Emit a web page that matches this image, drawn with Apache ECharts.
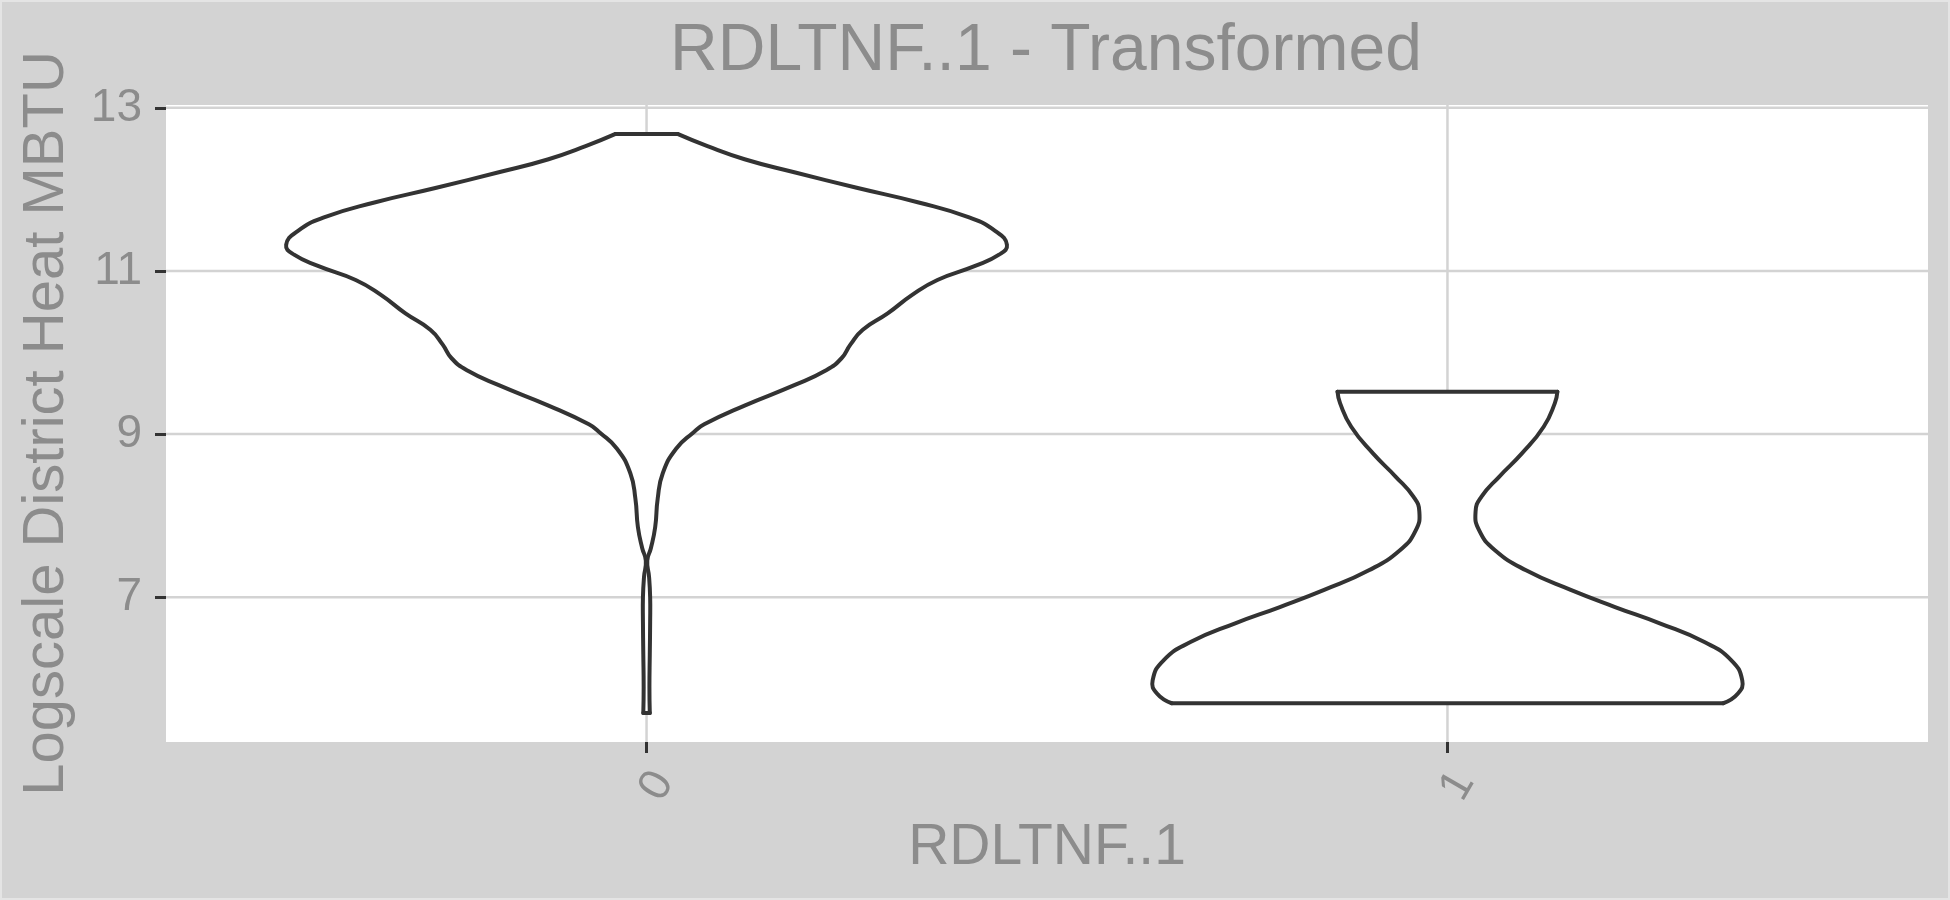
<!DOCTYPE html>
<html><head><meta charset="utf-8">
<script src="https://cdn.jsdelivr.net/npm/echarts@6/dist/echarts.min.js"></script>
<style>html,body{margin:0;padding:0;background:#d3d3d3}#c{width:1950px;height:900px}</style>
</head><body><div id="c"></div>
<script>
// ---- data ----
const categories = ['0', '1'];
const yTicks = [7, 9, 11, 13];
const titleText = 'RDLTNF..1 - Transformed';
const xTitle = 'RDLTNF..1';
const yTitle = 'Logscale District Heat MBTU';
// violin outlines: y values and relative half-widths (1 = widest violin)
const violin0Y = [5.58, 5.9, 6.3, 6.7, 7.0, 7.25, 7.45, 7.6, 7.86, 8.21, 8.52, 8.82, 9.02, 9.12, 9.35, 9.6, 9.78, 9.93, 10.1, 10.28, 10.48, 10.71, 10.89, 11.06, 11.2, 11.32, 11.49, 11.66, 11.84, 12.02, 12.21, 12.37, 12.53, 12.68];
const violin0W = [0.009, 0.008, 0.009, 0.010, 0.010, 0.007, 0.002, 0.012, 0.024, 0.031, 0.045, 0.082, 0.13, 0.16, 0.272, 0.41, 0.497, 0.541, 0.566, 0.6, 0.669, 0.738, 0.807, 0.91, 0.978, 1.0, 0.968, 0.893, 0.755, 0.583, 0.41, 0.272, 0.169, 0.086];
const violin1Y = [5.70, 5.82, 5.98, 6.23, 6.45, 6.68, 6.88, 7.09, 7.33, 7.58, 7.82, 8.05, 8.23, 8.48, 8.76, 9.09, 9.38, 9.52];
const violin1W = [0.765, 0.806, 0.818, 0.787, 0.713, 0.589, 0.465, 0.342, 0.218, 0.131, 0.088, 0.078, 0.094, 0.144, 0.206, 0.267, 0.298, 0.305];

const violinY = [violin0Y, violin1Y];
const violinW = [violin0W, violin1W];
const MAX_HALF = 0.45;
const Y_MIN = 5.225, Y_MAX = 13.035;
const X_MIN = -0.6, X_MAX = 1.6;

const txt = '#8c8c8c';
const FONT = 'Liberation Sans';
const chart = echarts.init(document.getElementById('c'));

function violinItem(params, api) {
  const i = params.dataIndex;
  const xc = api.value(0);
  const Y = violinY[i], W = violinW[i];
  const left = [], right = [];
  for (let k = 0; k < Y.length; k++) {
    left.push(api.coord([xc - W[k] * MAX_HALF, Y[k]]));
    right.push(api.coord([xc + W[k] * MAX_HALF, Y[k]]));
  }
  const rightRev = right.slice().reverse();
  const stroke = {fill: 'none', stroke: '#333333', lineWidth: 4, lineCap: 'round', lineJoin: 'round'};
  const n = Y.length - 1;
  return {
    type: 'group',
    children: [
      {type: 'polygon', shape: {points: left.concat(rightRev)}, style: {fill: '#ffffff', stroke: 'none'}},
      {type: 'polyline', shape: {points: left, smooth: 0.5}, style: stroke},
      {type: 'polyline', shape: {points: right, smooth: 0.5}, style: stroke},
      {type: 'polyline', shape: {points: [left[n], right[n]]}, style: stroke},
      {type: 'polyline', shape: {points: [left[0], right[0]]}, style: stroke}
    ]
  };
}

const option = {
  backgroundColor: '#d3d3d3',
  animation: false,
  title: {
    text: titleText, left: 1046, top: 19, padding: 0, textAlign: 'center',
    textStyle: {fontFamily: FONT, fontSize: 66, fontWeight: 'normal', color: txt}
  },
  grid: {left: 166, right: 22, top: 105, bottom: 158, show: true, backgroundColor: '#ffffff', borderWidth: 0},
  xAxis: {
    type: 'value', min: X_MIN, max: X_MAX,
    name: xTitle, nameLocation: 'middle', nameGap: 78,
    nameTextStyle: {fontFamily: FONT, fontSize: 57, color: txt},
    axisLine: {show: false, onZero: false},
    axisTick: {show: true, customValues: [0, 1], length: 11, lineStyle: {color: '#333333', width: 3}},
    axisLabel: {
      customValues: [0, 1], formatter: v => categories[Math.round(v)],
      rotate: 60, align: 'center', verticalAlign: 'top', lineHeight: 24, margin: 38,
      fontFamily: FONT, fontSize: 45, color: txt
    },
    splitLine: {show: false}
  },
  yAxis: {
    type: 'value', min: Y_MIN, max: Y_MAX,
    name: yTitle, nameLocation: 'middle', nameGap: 90,
    nameTextStyle: {fontFamily: FONT, fontSize: 58, color: txt},
    axisLine: {show: false, onZero: false},
    axisTick: {show: true, customValues: yTicks, length: 11, lineStyle: {color: '#333333', width: 3}},
    axisLabel: {customValues: yTicks, margin: 24, fontFamily: FONT, fontSize: 46, color: txt},
    splitLine: {show: false}
  },
  graphic: [{
    type: 'rect', shape: {x: 1, y: 1, width: 1948, height: 898},
    style: {fill: 'none', stroke: '#e4e4e4', lineWidth: 2}, silent: true, z: 100
  }],
  series: [
    {
      type: 'custom', z: 1, silent: true,
      data: yTicks.map(v => [X_MIN, v]),
      renderItem: (params, api) => {
        const cs = params.coordSys;
        const y = api.coord([X_MIN, api.value(1)])[1];
        return {type: 'line', shape: {x1: cs.x, y1: y, x2: cs.x + cs.width, y2: y}, style: {stroke: '#d3d3d3', lineWidth: 2.5}};
      }
    },
    {
      type: 'custom', z: 1, silent: true,
      data: categories.map((c, i) => [i, Y_MIN]),
      renderItem: (params, api) => {
        const cs = params.coordSys;
        const x = api.coord([api.value(0), Y_MIN])[0];
        return {type: 'line', shape: {x1: x, y1: cs.y, x2: x, y2: cs.y + cs.height}, style: {stroke: '#d3d3d3', lineWidth: 2.5}};
      }
    },
    {
      type: 'custom', z: 3, silent: true,
      data: categories.map((c, i) => [i, violinY[i][0]]),
      renderItem: violinItem
    }
  ]
};
chart.setOption(option);
</script></body></html>
